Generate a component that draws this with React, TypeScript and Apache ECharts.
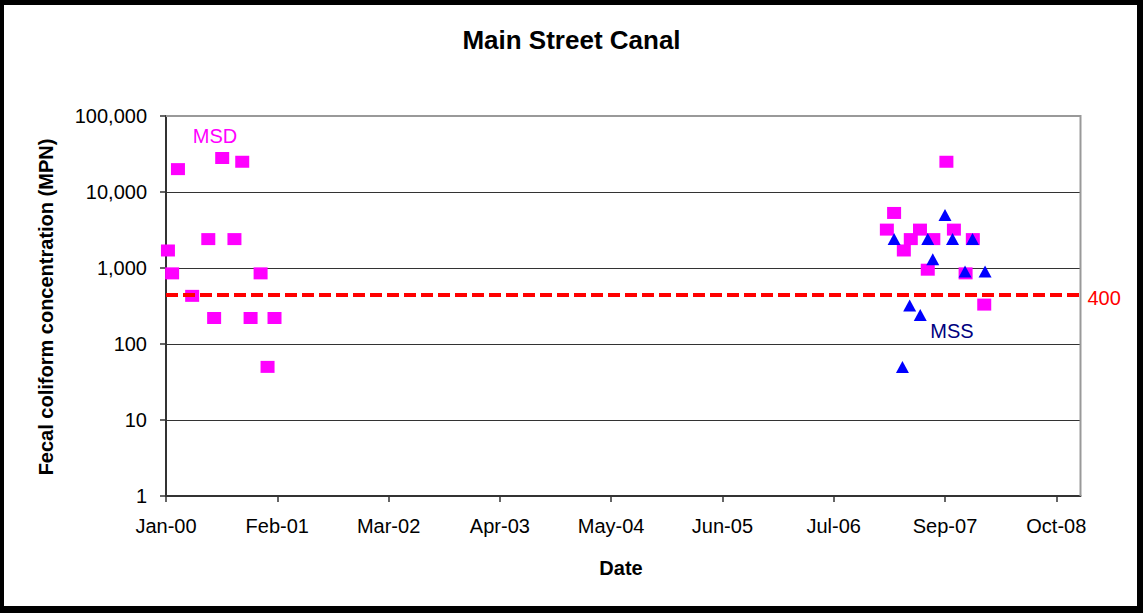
import React, { useEffect, useRef } from "react";
import * as echarts from "echarts";

// ---- Data ----
const ORIGIN = "2000-01-01";
const xTickDays = [0, 400, 800, 1200, 1600, 2000, 2400, 2800, 3200];
const xTickLabels = ["Jan-00", "Feb-01", "Mar-02", "Apr-03", "May-04", "Jun-05", "Jul-06", "Sep-07", "Oct-08"];
const xMaxDay = 3287;
const yTickValues = [1, 10, 100, 1000, 10000, 100000];

const msdDates = [
  "2000-01-08", "2000-01-23", "2000-02-13", "2000-04-04", "2000-06-01", "2000-06-22",
  "2000-07-21", "2000-09-03", "2000-10-01", "2000-10-31", "2000-12-06", "2000-12-31",
  "2001-01-25",
  "2007-02-04", "2007-03-02", "2007-04-06", "2007-05-01", "2007-06-03", "2007-07-01",
  "2007-07-21", "2007-09-06", "2007-10-03", "2007-11-14", "2007-12-10", "2008-01-20",
];
const msdValues = [
  1700, 850, 20000, 430, 2400, 220,
  28000, 2400, 25000, 220, 850, 50,
  220,
  3200, 5300, 1700, 2400, 3200, 950,
  2400, 25000, 3200, 850, 2400, 330,
];

const mssDates = [
  "2007-03-02", "2007-04-01", "2007-04-27", "2007-06-04", "2007-07-01", "2007-07-19",
  "2007-09-01", "2007-09-28", "2007-11-12", "2007-12-09", "2008-01-23",
];
const mssValues = [2400, 50, 320, 240, 2400, 1300, 5000, 2400, 900, 2400, 900];

const thresholdLine = 450;
const thresholdLabel = "400";

const FONT = "'Liberation Sans', Arial, Helvetica, sans-serif";

function dayOf(s: string): number {
  return Math.round((Date.parse(s) - Date.parse(ORIGIN)) / 86400000);
}

export default function App() {
  const ref = useRef<HTMLDivElement>(null);

  useEffect(() => {
    document.body.style.margin = "0";
    document.body.style.overflow = "hidden";
    if (!ref.current) return;
    const chart = echarts.init(ref.current, undefined, { renderer: "svg" });

    const msdData = msdDates.map((d, i) => [dayOf(d), msdValues[i]]);
    const mssData = mssDates.map((d, i) => [dayOf(d), mssValues[i]]);

    const gridLeft = 166;
    const gridTop = 116;
    const gridRight = 62.5;
    const gridBottom = 117;
    const W = 1143;
    const H = 613;

    chart.setOption({
      animation: false,
      backgroundColor: "#ffffff",
      title: {
        text: "Main Street Canal",
        left: "center",
        top: 22,
        textStyle: { fontFamily: FONT, fontSize: 26, fontWeight: "bold", color: "#000" },
      },
      grid: {
        left: gridLeft,
        top: gridTop,
        right: gridRight,
        bottom: gridBottom,
        show: false,
      },
      xAxis: {
        type: "value",
        min: 0,
        max: xMaxDay,
        axisLine: { show: true, lineStyle: { color: "#333", width: 2 } },
        axisTick: {
          show: true,
          length: 6,
          customValues: xTickDays,
          lineStyle: { color: "#333", width: 1.5 },
        },
        axisLabel: {
          customValues: xTickDays,
          formatter: (v: number) => {
            const idx = xTickDays.indexOf(Math.round(v));
            return idx >= 0 ? xTickLabels[idx] : "";
          },
          margin: 20,
          fontFamily: FONT,
          fontSize: 20,
          color: "#000",
        },
        splitLine: { show: false },
      },
      yAxis: {
        type: "log",
        logBase: 10,
        min: yTickValues[0],
        max: yTickValues[yTickValues.length - 1],
        axisLine: { show: true, lineStyle: { color: "#333", width: 2 } },
        axisTick: { show: true, length: 6, lineStyle: { color: "#333", width: 1.5 } },
        axisLabel: {
          formatter: (v: number) => Math.round(v).toLocaleString("en-US"),
          margin: 19,
          fontFamily: FONT,
          fontSize: 20,
          color: "#000",
        },
        splitLine: { show: true, lineStyle: { color: "#333", width: 1 } },
        minorTick: { show: false },
      },
      series: [
        {
          name: "MSD",
          type: "scatter",
          data: msdData,
          symbol: "rect",
          symbolSize: [14, 12],
          itemStyle: { color: "#FF00FF", opacity: 1 },
          z: 3,
          markLine: {
            silent: true,
            symbol: "none",
            data: [{ yAxis: thresholdLine }],
            lineStyle: { color: "#FF0000", width: 4, type: [12, 5], opacity: 1 },
            label: {
              show: true,
              position: "end",
              formatter: thresholdLabel,
              color: "#FF0000",
              fontFamily: FONT,
              fontSize: 20,
              distance: 7,
              offset: [0, 4],
            },
          },
        },
        {
          name: "MSS",
          type: "scatter",
          data: mssData,
          symbol: "triangle",
          symbolSize: [13, 12],
          itemStyle: { color: "#0000FF", opacity: 1 },
          z: 4,
        },
      ],
      graphic: [
        // plot-area top & right frame (gray)
        {
          type: "polyline",
          z: 50,
          silent: true,
          shape: {
            points: [
              [gridLeft, gridTop],
              [W - gridRight, gridTop],
              [W - gridRight, H - gridBottom],
            ],
          },
          style: { stroke: "#999", lineWidth: 2, fill: null },
        },
        // outer border
        { type: "rect", z: 60, silent: true, shape: { x: 0, y: 0, width: W, height: 5 }, style: { fill: "#000" } },
        { type: "rect", z: 60, silent: true, shape: { x: 0, y: 0, width: 4, height: H }, style: { fill: "#000" } },
        { type: "rect", z: 60, silent: true, shape: { x: W - 6, y: 0, width: 6, height: H }, style: { fill: "#000" } },
        { type: "rect", z: 60, silent: true, shape: { x: 0, y: H - 7, width: W, height: 7 }, style: { fill: "#000" } },
        // y axis title
        {
          type: "text",
          z: 50,
          x: 46,
          y: 307,
          rotation: Math.PI / 2,
          style: {
            text: "Fecal coliform concentration (MPN)",
            font: `bold 20px ${FONT}`,
            fill: "#000",
            align: "center",
            verticalAlign: "middle",
          },
        },
        // x axis title
        {
          type: "text",
          z: 50,
          x: 621,
          y: 568,
          style: {
            text: "Date",
            font: `bold 20px ${FONT}`,
            fill: "#000",
            align: "center",
            verticalAlign: "middle",
          },
        },
        // series annotations
        {
          type: "text",
          z: 50,
          x: 215,
          y: 136,
          style: {
            text: "MSD",
            font: `20px ${FONT}`,
            fill: "#FF00FF",
            align: "center",
            verticalAlign: "middle",
          },
        },
        {
          type: "text",
          z: 50,
          x: 952,
          y: 331,
          style: {
            text: "MSS",
            font: `20px ${FONT}`,
            fill: "#000080",
            align: "center",
            verticalAlign: "middle",
          },
        },
      ],
    });

    return () => {
      chart.dispose();
    };
  }, []);

  return <div ref={ref} style={{ width: 1143, height: 613 }} />;
}
